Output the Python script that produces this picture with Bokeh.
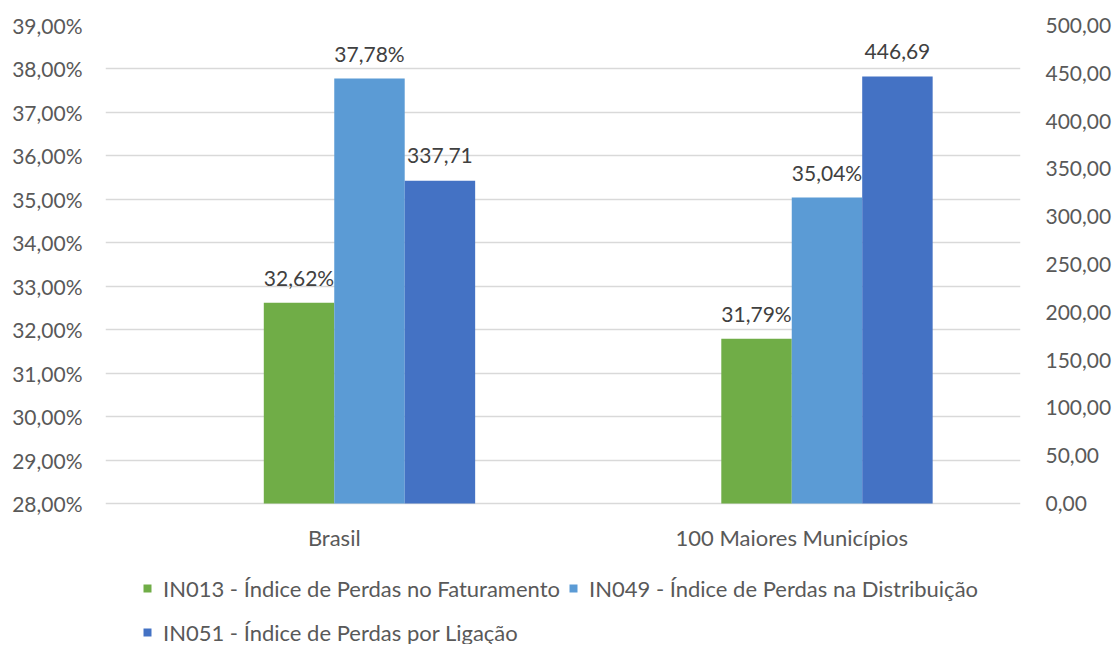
from bokeh.plotting import figure
from bokeh.models import (Range1d, LinearAxis, CustomJSTickFormatter, Legend, LegendItem,
                          ColumnDataSource, FixedTicker, FactorRange)
from bokeh.transform import dodge
from bokeh.core.properties import value
from bokeh.embed import file_html
from bokeh.resources import INLINE

categories = ["Brasil", "100 Maiores Municípios"]
in013 = [32.62, 31.79]
in049 = [37.78, 35.04]
in051 = [337.71, 446.69]
series_names = ["IN013 - Índice de Perdas no Faturamento",
                "IN049 - Índice de Perdas na Distribuição",
                "IN051 - Índice de Perdas por Ligação"]
left_ticks = [28, 29, 30, 31, 32, 33, 34, 35, 36, 37, 38, 39]
right_ticks = [0, 50, 100, 150, 200, 250, 300, 350, 400, 450, 500]

FONT = "Lato"
NUM_SIZE = "21px"
TXT_SIZE = "22px"
C_GREEN = "#70AD47"
C_LBLUE = "#5B9BD5"
C_DBLUE = "#4472C4"
TXT = "#595959"
LBL = "#404040"

# layout (pixels): plot area of the value axes and the room below it for labels + legend
WIDTH, HEIGHT = 1116, 644
TOP, LEFT, RIGHT = 25, 105, 96
AXIS_PX = 478          # height of the 28%..39% band
BELOW_PX = HEIGHT - TOP - AXIS_PX   # room under the band (category labels + legend)

l_lo, l_hi = left_ticks[0], left_ticks[-1]
r_lo, r_hi = right_ticks[0], right_ticks[-1]
l_ext = (l_hi - l_lo) * BELOW_PX / AXIS_PX
r_ext = (r_hi - r_lo) * BELOW_PX / AXIS_PX

src = ColumnDataSource(dict(
    cat=categories, in013=in013, in049=in049, in051=in051,
    base_l=[l_lo] * len(categories), base_r=[r_lo] * len(categories),
    t013=[f"{v:.2f}".replace(".", ",") + "%" for v in in013],
    t049=[f"{v:.2f}".replace(".", ",") + "%" for v in in049],
    t051=[f"{v:.2f}".replace(".", ",") for v in in051],
))

p = figure(x_range=FactorRange(*categories),
           y_range=Range1d(l_lo - l_ext, l_hi),
           width=WIDTH, height=HEIGHT, x_axis_location=None,
           min_border_left=LEFT, min_border_right=RIGHT, min_border_top=TOP, min_border_bottom=0,
           output_backend="svg", toolbar_location=None)
p.extra_y_ranges = {"right": Range1d(r_lo - r_ext, r_hi)}
p.outline_line_color = None
p.background_fill_color = "white"
p.border_fill_color = "white"

W = 0.154
r1 = p.vbar(x=dodge("cat", -0.5 * W, range=p.x_range), top="in013", bottom="base_l", width=W,
            source=src, fill_color=C_GREEN, line_color=None)
r2 = p.vbar(x=dodge("cat", 0.5 * W, range=p.x_range), top="in049", bottom="base_l", width=W,
            source=src, fill_color=C_LBLUE, line_color=None)
r3 = p.vbar(x=dodge("cat", 1.5 * W, range=p.x_range), top="in051", bottom="base_r", width=W,
            source=src, fill_color=C_DBLUE, line_color=None, y_range_name="right")

lab_kw = dict(text_align="center", text_baseline="alphabetic", y_offset=-25,
              text_font=value(FONT), text_font_size=NUM_SIZE, text_color=LBL, source=src)
p.text(x=dodge("cat", -0.5 * W, range=p.x_range), y="in013", text="t013", **lab_kw)
p.text(x=dodge("cat", 0.5 * W, range=p.x_range), y="in049", text="t049", **lab_kw)
p.text(x=dodge("cat", 1.5 * W, range=p.x_range), y="in051", text="t051", y_range_name="right", **lab_kw)

# category labels (x axis)
p.text(x="cat", y="base_l", text="cat", source=src, text_align="center", text_baseline="middle",
       y_offset=34, text_font=value(FONT), text_font_size=TXT_SIZE, text_color=TXT)

# left axis
ya = p.yaxis[0]
ya.ticker = FixedTicker(ticks=left_ticks)
ya.formatter = CustomJSTickFormatter(code="return tick.toFixed(2).replace('.', ',') + '%';")
ya.axis_line_color = None
ya.major_tick_line_color = None
ya.minor_tick_line_color = None
ya.major_tick_out = 0
ya.major_label_standoff = 23
ya.major_label_text_font = FONT
ya.major_label_text_font_size = NUM_SIZE
ya.major_label_text_color = TXT

# right axis
ra = LinearAxis(y_range_name="right", ticker=FixedTicker(ticks=right_ticks),
                formatter=CustomJSTickFormatter(code="return tick.toFixed(2).replace('.', ',');"))
ra.axis_line_color = None
ra.major_tick_line_color = None
ra.minor_tick_line_color = None
ra.major_tick_out = 0
ra.major_label_standoff = 25
ra.major_label_text_font = FONT
ra.major_label_text_font_size = NUM_SIZE
ra.major_label_text_color = TXT
p.add_layout(ra, "right")

p.xgrid.grid_line_color = None
p.ygrid.ticker = FixedTicker(ticks=left_ticks)
p.ygrid.grid_line_color = "#D9D9D9"
p.ygrid.grid_line_width = 1.5

legend = Legend(items=[LegendItem(label=series_names[0], renderers=[r1]),
                       LegendItem(label=series_names[1], renderers=[r2]),
                       LegendItem(label=series_names[2], renderers=[r3])],
                orientation="horizontal", ncols=2, location=(37, -6))
legend.border_line_color = None
legend.background_fill_alpha = 0
legend.label_text_font = FONT
legend.label_text_font_size = TXT_SIZE
legend.label_text_color = TXT
legend.glyph_width = 10
legend.glyph_height = 10
legend.label_standoff = 11
legend.spacing = 8
legend.label_height = 36
legend.padding = 0
legend.margin = 0
p.add_layout(legend, "center")

open("out.html", "w").write(file_html(p, INLINE))
